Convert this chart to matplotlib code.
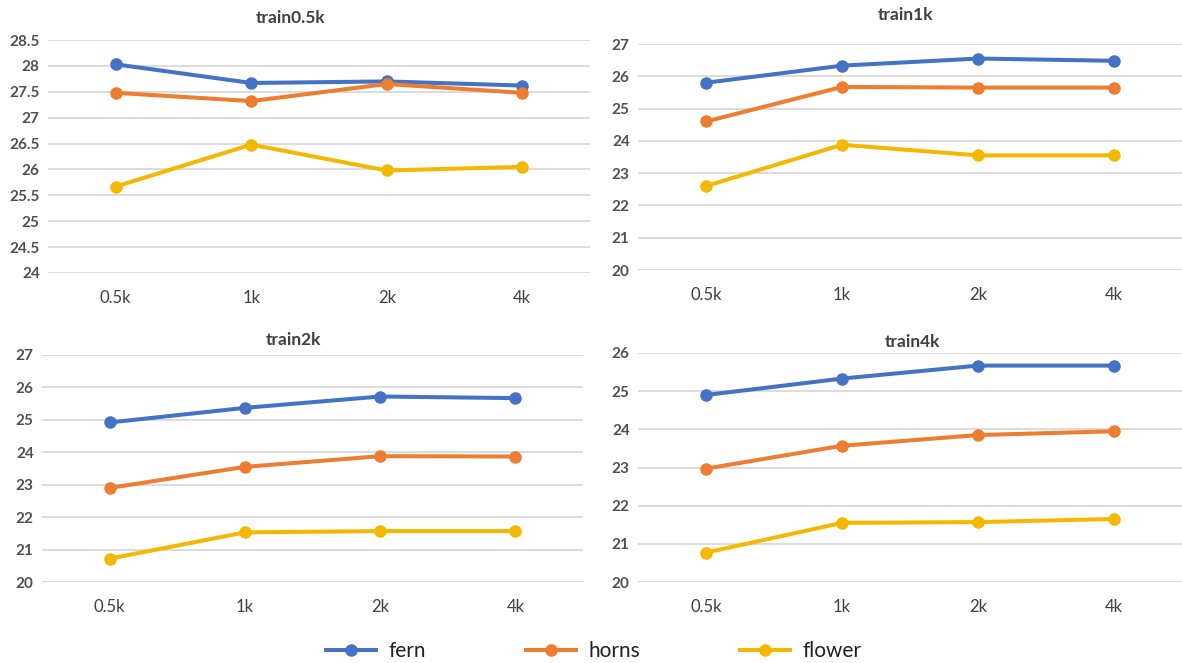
import matplotlib
matplotlib.use("Agg")
import matplotlib.pyplot as plt
from matplotlib.lines import Line2D

plt.rcParams["font.family"] = ["Lato", "DejaVu Sans"]

# -----------------------------
# Data
# -----------------------------
CATEGORIES = ["0.5k", "1k", "2k", "4k"]
SERIES = ["fern", "horns", "flower"]
COLORS = {"fern": "#4472C4", "horns": "#ED7D31", "flower": "#F5B800"}

TRAIN_05K = {
    "fern": [28.03, 27.67, 27.70, 27.62],
    "horns": [27.48, 27.32, 27.65, 27.48],
    "flower": [25.67, 26.48, 25.98, 26.05],
}
TRAIN_1K = {
    "fern": [25.80, 26.33, 26.55, 26.48],
    "horns": [24.60, 25.67, 25.65, 25.65],
    "flower": [22.60, 23.88, 23.55, 23.55],
}
TRAIN_2K = {
    "fern": [24.92, 25.37, 25.72, 25.67],
    "horns": [22.90, 23.55, 23.88, 23.87],
    "flower": [20.72, 21.53, 21.57, 21.57],
}
TRAIN_4K = {
    "fern": [24.90, 25.33, 25.67, 25.67],
    "horns": [22.97, 23.57, 23.85, 23.95],
    "flower": [20.77, 21.55, 21.57, 21.65],
}

Y_TICKS_05K = [24, 24.5, 25, 25.5, 26, 26.5, 27, 27.5, 28, 28.5]
Y_TICKS_1K = [20, 21, 22, 23, 24, 25, 26, 27]
Y_TICKS_2K = [20, 21, 22, 23, 24, 25, 26, 27]
Y_TICKS_4K = [20, 21, 22, 23, 24, 25, 26]

W, H = 1182, 663

# panel: (title, data, yticks, axes rect in px (left, top, right, bottom), title pos px)
PANELS = [
    ("train0.5k", TRAIN_05K, Y_TICKS_05K, (48, 40, 590, 273), (291, 18)),
    ("train1k", TRAIN_1K, Y_TICKS_1K, (638, 44, 1182, 270), (905, 15)),
    ("train2k", TRAIN_2K, Y_TICKS_2K, (42, 355, 583, 582), (293, 340)),
    ("train4k", TRAIN_4K, Y_TICKS_4K, (638, 353, 1182, 582), (912, 342)),
]

TEXT_COLOR = "#404040"
GRID_COLOR = "#D9D9D9"


def ytick_fmt(v):
    return f"{v:g}"


fig = plt.figure(figsize=(W / 100, H / 100), dpi=100)

for title, data, yticks, (l, t, r, b), (tx, ty) in PANELS:
    ax = fig.add_axes([l / W, 1 - b / H, (r - l) / W, (b - t) / H])
    x = range(len(CATEGORIES))
    for name in SERIES:
        ax.plot(x, data[name], color=COLORS[name], linewidth=2.9,
                marker="o", markersize=8, solid_capstyle="round", zorder=3)
    ax.set_xlim(-0.5, len(CATEGORIES) - 0.5)
    ax.set_ylim(yticks[0], yticks[-1])
    ax.set_xticks(list(x))
    ax.set_xticklabels(CATEGORIES, fontsize=12, color=TEXT_COLOR)
    ax.set_yticks(yticks)
    ax.set_yticklabels([ytick_fmt(v) for v in yticks], fontsize=11,
                       color="#505050", fontweight="bold")
    ax.tick_params(axis="both", length=0)
    ax.tick_params(axis="x", pad=12)
    ax.tick_params(axis="y", pad=6)
    ax.grid(axis="y", color=GRID_COLOR, linewidth=1.3, zorder=0)
    for s in ax.spines.values():
        s.set_visible(False)
    fig.text(tx / W, 1 - ty / H, title, ha="center", va="center",
             fontsize=12.5, fontweight="bold", color=TEXT_COLOR)

handles = [Line2D([0], [0], color=COLORS[n], linewidth=2.9, marker="o",
                  markersize=8) for n in SERIES]
fig.legend(handles, SERIES, loc="center", bbox_to_anchor=(594 / W, 1 - 651 / H),
           ncol=3, frameon=False, fontsize=15, handlelength=2.4,
           columnspacing=4.8, handletextpad=0.6, labelcolor="#202020")

fig.savefig("out.png", dpi=100)
